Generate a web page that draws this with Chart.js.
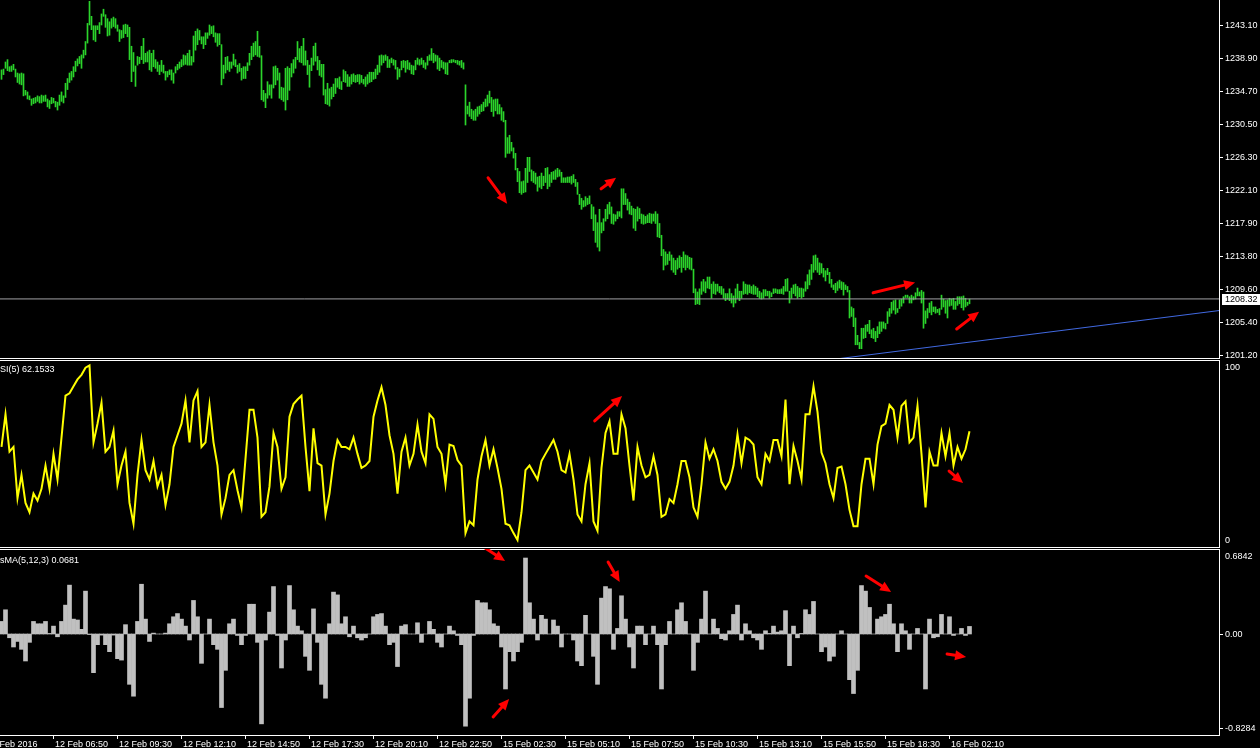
<!DOCTYPE html>
<html>
<head>
<meta charset="utf-8">
<script src="https://cdn.jsdelivr.net/npm/chart.js@4.4.1/dist/chart.umd.min.js"></script>
<style>
  html, body { margin: 0; padding: 0; background: #000; overflow: hidden; }
  canvas { position: absolute; left: 0; }
  #price { top: 0; }
  #rsi { top: 360px; }
  #osma { top: 549px; }
</style>
</head>
<body>
<canvas id="price" width="1260" height="360"></canvas>
<canvas id="rsi" width="1260" height="188"></canvas>
<canvas id="osma" width="1260" height="199"></canvas>
<script>
// XAUUSD M5, one entry per bar (high / low)
const highs = [
  1237.4,1237.5,1238.4,1238.7,1237.8,1237.9,1238.1,1237.5,1237.0,1236.9,
  1237.0,1236.9,1234.8,1234.6,1234.1,1233.7,1233.8,1233.9,1234.1,1234.0,
  1234.2,1234.1,1234.2,1233.7,1233.5,1233.9,1233.8,1233.4,1233.3,1234.2,
  1234.6,1234.1,1235.7,1236.3,1237.0,1237.2,1237.8,1238.5,1238.8,1239.1,
  1239.3,1239.9,1241.0,1243.3,1246.1,1244.2,1243.0,1243.0,1243.0,1243.4,
  1244.5,1245.1,1244.4,1243.9,1243.5,1243.9,1244.1,1243.9,1243.1,1242.5,
  1242.4,1243.1,1243.2,1243.1,1242.8,1240.4,1239.6,1237.9,1239.1,1239.0,
  1240.4,1241.4,1239.5,1239.7,1239.9,1239.5,1239.9,1238.7,1238.4,1238.0,
  1238.6,1238.0,1237.2,1237.2,1237.4,1237.4,1237.0,1237.8,1238.1,1238.4,
  1238.7,1239.3,1239.2,1239.5,1239.9,1239.1,1241.7,1242.3,1242.6,1242.4,
  1241.6,1241.6,1242.1,1242.1,1243.1,1242.9,1243.0,1242.1,1242.0,1242.0,
  1240.6,1238.0,1239.0,1239.1,1238.4,1238.4,1239.4,1238.7,1238.0,1238.2,
  1237.6,1237.8,1237.8,1238.3,1239.5,1240.4,1240.8,1241.0,1242.3,1240.4,
  1239.2,1234.8,1234.4,1235.9,1235.5,1235.5,1237.8,1237.9,1237.6,1237.0,
  1235.2,1235.1,1237.6,1237.8,1237.6,1238.2,1238.7,1239.0,1241.0,1240.1,
  1240.4,1241.4,1239.8,1238.6,1238.0,1238.9,1240.4,1240.8,1239.1,1238.6,
  1238.1,1238.1,1234.9,1235.7,1235.0,1235.2,1235.6,1236.3,1236.3,1236.5,
  1235.9,1237.4,1237.2,1236.8,1236.5,1236.8,1236.9,1236.7,1236.8,1236.8,
  1236.7,1236.2,1236.5,1236.8,1237.1,1237.1,1237.1,1237.5,1238.0,1239.2,
  1239.3,1239.2,1239.3,1239.1,1238.7,1238.9,1238.7,1238.6,1237.7,1237.5,
  1238.5,1238.6,1238.5,1238.6,1238.3,1238.0,1237.9,1238.6,1238.9,1238.7,
  1238.9,1238.6,1238.3,1239.1,1239.3,1240.1,1239.5,1239.3,1239.2,1238.9,
  1238.6,1238.4,1238.3,1238.3,1238.6,1238.7,1238.7,1238.6,1238.6,1238.5,
  1238.6,1238.3,1235.5,1232.8,1233.3,1232.4,1232.2,1232.4,1232.7,1232.8,
  1233.0,1233.3,1233.7,
  1234.2,1234.7,1233.9,1233.6,1233.7,1233.7,1233.0,1232.6,1232.1,1231.0,
  1228.8,1229.1,1228.2,1227.5,1226.8,1224.9,1224.5,1223.2,1223.3,1224.9,
  1226.3,1226.3,1224.7,1224.5,1224.3,1223.8,1223.9,1224.3,1223.9,1224.9,
  1225.0,1224.1,1224.4,1224.5,1224.7,1224.9,1224.7,1224.4,1223.7,1223.7,
  1223.8,1223.8,1223.9,1224.1,1223.5,1223.1,1221.6,1221.1,1220.8,1221.3,
  1221.1,1221.4,1220.3,1220.0,1219.0,1218.0,1219.7,1218.0,1218.5,1219.7,
  1220.3,1220.6,1220.0,1219.1,1219.0,1219.4,1219.4,1222.3,1222.3,1221.7,
  1221.0,1220.6,1220.1,1219.8,1219.7,1220.0,1219.8,1219.1,1219.0,1218.8,
  1219.0,1219.2,1219.1,1219.1,1219.4,1219.1,1217.9,1216.4,1214.6,1214.3,
  1214.0,1214.3,1213.9,1213.5,1213.2,1213.5,1213.8,1213.6,1214.3,1213.9,
  1213.8,1213.6,1213.5,1212.1,1209.6,1209.2,1209.6,1210.5,1210.8,1210.5,
  1211.1,1211.1,1210.2,1210.5,1210.2,1210.2,1209.9,1209.9,1209.6,1209.0,
  1209.0,
  1209.6,1209.0,1208.7,1209.6,1210.2,1209.3,1209.3,1210.5,1210.2,1210.1,
  1210.1,1209.9,1210.1,1209.9,1209.7,1209.3,1209.1,1209.5,1209.5,1209.3,
  1209.3,1209.1,1209.6,1209.6,1209.5,1209.5,1209.6,1209.9,1210.8,1210.9,
  1209.3,1209.7,1210.1,1210.2,1209.9,1209.7,1209.7,1209.6,1210.5,1211.4,
  1212.0,1212.7,1213.8,1213.9,1213.5,1212.9,
  1212.8,1212.2,1211.9,1212.2,1211.7,1210.8,1210.1,1210.3,1210.5,1210.7,
  1210.5,1210.4,1210.1,1209.9,1209.4,1207.3,1207.1,1205.9,1203.7,1202.8,
  1204.6,1204.6,1205.0,1205.1,1205.6,1204.4,1204.6,1204.2,1204.8,1205.4,
  1205.4,1205.4,1205.2,1206.7,1207.1,1207.9,1208.1,1208.2,1207.1,1208.2,
  1208.3,1208.6,1208.8,1208.8,1208.6,1208.8,1208.6,1209.1,1209.7,1209.2,
  1209.4,1209.2,1206.8,1207.1,1207.8,1208.0,1207.3,1207.3,1207.0,1207.1,
  1208.8,1208.3,1208.1,1208.2,1208.4,1208.3,1208.4,1208.0,1208.6,1208.6,
  1208.6,1208.7,1208.4,1207.9,1208.3
];
const lows = [
  1236.2,1236.8,1237.6,1237.3,1237.2,1237.2,1237.4,1236.5,1235.8,1235.6,
  1235.5,1234.1,1234.2,1233.7,1233.6,1232.9,1233.1,1233.2,1233.4,1233.2,
  1233.2,1233.4,1233.4,1232.7,1232.5,1233.1,1233.2,1232.7,1232.3,1232.9,
  1233.4,1233.2,1233.9,1234.9,1235.8,1236.1,1236.5,1237.2,1237.9,1238.2,
  1237.6,1238.9,1239.3,1240.8,1243.1,1242.5,1241.2,1241.0,1242.5,1242.0,
  1243.1,1244.2,1242.8,1241.7,1241.8,1242.7,1242.9,1242.7,1242.3,1241.0,
  1241.4,1241.5,1242.0,1241.6,1238.7,1235.9,1237.2,1235.3,1238.0,1238.2,
  1238.7,1238.2,1238.4,1238.4,1237.4,1237.2,1237.8,1237.6,1237.2,1236.8,
  1237.2,1237.0,1236.1,1236.5,1236.8,1236.1,1235.7,1237.0,1237.4,1237.6,
  1237.8,1238.0,1238.1,1238.0,1238.0,1238.0,1238.4,1239.9,1240.6,1241.2,
  1240.7,1240.1,1240.6,1241.4,1241.8,1242.0,1241.6,1240.9,1240.4,1240.6,
  1235.5,1236.3,1237.0,1237.4,1237.2,1237.6,1238.0,1237.8,1237.0,1237.2,
  1236.1,1236.3,1236.3,1237.3,1238.0,1238.7,1239.1,1239.3,1239.1,1239.0,
  1233.6,1233.4,1232.6,1233.8,1234.2,1233.8,1235.1,1235.5,1236.1,1233.8,
  1233.6,1233.4,1232.3,1233.6,1234.8,1236.5,1237.0,1237.6,1238.7,1238.4,
  1238.3,1238.0,1238.0,1236.8,1235.2,1237.3,1238.0,1238.5,1237.4,1236.7,
  1236.5,1234.2,1233.1,1233.0,1232.8,1233.7,1234.0,1234.4,1235.2,1235.0,
  1234.9,1235.9,1235.8,1235.3,1235.3,1235.6,1235.9,1235.8,1235.9,1235.6,
  1235.8,1235.6,1235.3,1235.6,1235.8,1235.9,1236.2,1236.3,1236.8,1237.1,
  1238.0,1238.3,1238.6,1237.7,1237.7,1238.3,1238.0,1237.5,1236.2,1236.5,
  1237.4,1237.7,1237.1,1237.5,1237.4,1236.9,1236.8,1237.4,1238.1,1238.0,
  1238.1,1237.7,1237.5,1238.0,1238.6,1238.6,1238.3,1238.5,1237.5,1237.3,
  1237.7,1237.5,1236.9,1236.8,1238.3,1238.3,1238.4,1238.3,1238.1,1238.0,
  1237.7,1237.5,1230.4,1231.8,1231.5,1231.2,1231.0,1231.0,1231.5,1231.8,
  1232.1,1232.2,1232.7,
  1232.8,1233.2,1232.1,1231.5,1232.2,1231.8,1231.8,1231.0,1230.8,1226.3,
  1226.8,1226.8,1227.1,1226.2,1224.7,1223.2,1221.8,1221.6,1221.8,1221.9,
  1223.1,1224.5,1223.3,1223.1,1222.9,1222.0,1222.5,1222.3,1222.7,1223.1,
  1222.3,1222.6,1223.1,1223.5,1223.5,1223.8,1223.9,1223.1,1223.1,1223.1,
  1223.1,1223.1,1222.9,1223.1,1222.6,1221.6,1220.3,1219.7,1220.0,1220.1,
  1220.3,1220.4,1218.5,1217.0,1215.5,1214.9,1214.4,1216.7,1217.0,1218.2,
  1218.5,1219.1,1217.9,1217.8,1218.2,1218.5,1218.8,1218.6,1220.3,1220.3,
  1219.6,1219.1,1219.0,1217.3,1217.0,1218.2,1218.5,1217.9,1217.8,1217.9,
  1218.0,1218.0,1217.9,1218.2,1217.9,1216.2,1216.1,1213.8,1212.0,1212.6,
  1212.7,1213.2,1212.0,1211.7,1211.4,1212.1,1212.3,1211.7,1212.3,1212.0,
  1212.3,1212.1,1212.0,1209.1,1207.6,1207.7,1207.6,1208.9,1209.3,1209.1,
  1209.7,1209.6,1208.4,1209.0,1208.9,1209.3,1209.1,1208.9,1208.4,1208.1,
  1208.3,
  1208.1,1207.8,1207.3,1207.8,1208.4,1208.1,1208.4,1208.9,1209.0,1208.9,
  1209.1,1209.0,1208.9,1208.9,1208.6,1208.4,1208.3,1208.4,1208.7,1208.7,
  1208.4,1208.6,1209.0,1209.1,1209.0,1209.0,1209.0,1208.9,1209.3,1209.3,
  1207.8,1208.4,1209.0,1208.7,1208.4,1208.6,1208.4,1208.6,1209.3,1209.6,
  1210.1,1210.8,1211.7,1212.0,1211.7,1211.4,
  1211.6,1211.1,1210.6,1211.4,1210.3,1209.8,1209.5,1209.1,1209.4,1209.7,
  1209.5,1208.8,1209.5,1209.2,1205.9,1206.1,1204.8,1202.5,1202.5,1202.0,
  1202.0,1203.3,1203.4,1204.2,1203.9,1203.4,1203.3,1202.9,1203.4,1203.9,
  1204.2,1204.6,1204.5,1205.2,1206.1,1206.5,1206.9,1206.4,1206.6,1207.1,
  1207.4,1207.8,1208.5,1208.5,1207.8,1207.8,1208.2,1208.3,1208.7,1208.7,
  1207.8,1204.6,1205.2,1205.9,1206.6,1206.3,1206.7,1206.5,1206.6,1206.3,
  1207.0,1207.3,1206.5,1205.9,1207.4,1207.5,1207.0,1207.0,1207.5,1207.7,
  1207.2,1206.9,1207.3,1207.5,1207.7
];

// RSI(5) and OsMA(5,12,3), one entry every second bar
const rsi = [
  53.6,71.4,51.0,53.6,25.6,38.3,23.0,17.9,28.1,24.3,30.7,43.4,30.7,49.8,35.8,58.7,
  81.6,82.9,86.7,90.5,93.0,96.9,98.1,56.1,66.3,77.8,51.0,53.6,62.5,33.2,43.4,51.0,
  23.0,11.6,38.3,57.4,40.9,35.8,45.9,32.0,38.3,21.8,33.2,53.6,60.0,66.3,79.0,56.1,
  79.0,84.1,53.6,56.1,76.5,56.1,43.4,16.7,25.6,38.3,40.9,29.9,20.5,47.2,
  73.9,73.9,58.7,15.4,17.9,32.0,61.2,53.6,30.7,37.0,70.1,77.0,79.5,81.6,53.6,29.4,
  63.8,44.7,43.4,16.7,28.1,45.9,57.4,53.6,53.6,52.3,58.7,49.8,42.1,43.4,45.9,70.1,
  79.0,86.2,76.5,60.0,49.8,28.1,51.0,58.7,43.4,49.8,65.8,51.0,44.7,71.4,68.9,53.6,
  49.8,33.2,54.9,54.1,46.4,43.4,6.5,12.9,10.8,35.8,48.5,57.4,
  43.4,52.3,42.1,30.7,11.6,10.8,6.5,2.7,17.9,40.9,43.4,39.6,35.8,45.9,49.8,53.6,
  57.4,51.0,40.9,39.6,49.8,35.8,16.7,12.9,33.2,44.7,12.9,7.8,42.1,61.2,67.6,49.8,
  49.8,71.4,63.8,43.4,24.3,53.6,43.4,37.0,38.3,48.5,38.3,15.4,16.7,25.1,23.0,33.2,
  45.9,45.9,37.0,20.5,15.4,33.2,56.1,47.2,52.3,45.9,34.5,30.7,
  34.5,43.4,60.5,44.7,58.7,57.4,54.9,37.0,33.2,49.8,45.9,57.4,57.4,48.5,79.5,33.2,
  54.1,45.9,35.8,71.4,71.4,86.7,72.7,50.5,44.7,33.2,25.6,42.1,42.9,33.2,19.2,10.3,
  10.3,33.2,47.2,47.2,33.2,54.9,65.0,66.3,76.5,73.9,58.7,76.0,78.5,56.1,58.7,76.0,
  49.8,20.5,51.0,43.4,43.4,61.2,48.5,61.2,43.4,53.6,47.2,52.3,62.2
];
const osma = [
  0.113,0.218,-0.034,-0.117,-0.067,-0.138,-0.243,-0.075,0.113,0.092,0.092,0.113,0.005,0.071,-0.025,0.113,
  0.260,0.440,0.134,0.126,0.042,0.386,-0.005,-0.348,-0.096,-0.010,-0.096,-0.159,-0.010,-0.222,-0.235,0.084,
  -0.453,-0.560,0.113,0.448,0.134,-0.067,0.008,0.0,0.0,0.008,0.092,0.155,0.184,0.134,0.071,-0.054,
  0.302,0.155,-0.264,0.0,0.134,-0.096,-0.138,-0.662,-0.327,0.092,0.134,-0.013,-0.096,-0.013,
  0.268,0.268,-0.075,-0.809,-0.054,0.197,0.427,-0.013,-0.306,-0.054,0.436,0.218,0.071,0.029,-0.201,-0.327,
  0.226,-0.075,-0.453,-0.578,0.092,0.377,0.352,0.092,0.155,-0.025,0.071,-0.034,-0.054,-0.034,0.0,0.155,
  0.176,0.184,0.071,-0.096,-0.075,-0.293,0.071,0.084,0.0,0.0,0.101,-0.075,0.0,0.113,0.042,-0.075,
  -0.117,0.0,0.071,0.029,-0.013,-0.096,-0.830,-0.578,-0.013,0.302,0.281,0.281,
  0.218,0.092,0.071,-0.117,-0.495,-0.159,-0.243,-0.159,-0.075,0.684,0.281,0.134,-0.054,0.168,0.134,0.0,
  0.126,0.071,-0.117,0.0,0.0,-0.054,-0.243,-0.285,0.168,0.0,-0.201,-0.453,0.323,0.427,0.407,-0.138,
  0.050,0.344,0.134,-0.117,-0.306,0.071,0.071,-0.096,0.0,0.071,-0.096,-0.495,-0.096,0.113,0.0,0.218,
  0.281,0.113,0.0,-0.327,-0.075,0.134,0.386,0.0,0.134,0.050,-0.042,-0.054,
  0.029,0.176,0.260,-0.054,0.092,0.029,-0.034,-0.054,-0.138,0.029,0.005,0.071,0.017,0.029,0.210,-0.285,
  0.071,-0.034,0.005,0.218,0.176,0.293,0.0,-0.159,-0.117,-0.243,-0.201,0.0,0.029,0.0,-0.411,-0.536,
  -0.327,0.436,0.386,0.239,0.0,0.134,0.155,0.176,0.268,0.092,-0.159,0.092,0.029,-0.138,0.0,0.050,
  0.0,-0.495,0.134,-0.034,-0.025,0.176,0.0,0.155,-0.013,0.0,0.050,-0.013,0.068
];

const lastPrice = 1208.32;
const trendAnchors = [[410, 1200.46], [609, 1206.85]];
const priceTicks = [1243.10, 1238.90, 1234.70, 1230.50, 1226.30, 1222.10, 1217.90, 1213.80, 1209.60, 1205.40, 1201.20];
const rsiLabels = ['100', '0'];
const osmaLabels = [[0.6842, '0.6842'], [0, '0.00'], [-0.8284, '-0.8284']];
const xTickBars = [-8, 26, 58, 90, 122, 154, 186, 218, 250, 282, 314, 346, 378, 410, 442, 474];
const xTickLabels = ['12 Feb 2016', '12 Feb 06:50', '12 Feb 09:30', '12 Feb 12:10', '12 Feb 14:50',
  '12 Feb 17:30', '12 Feb 20:10', '12 Feb 22:50', '15 Feb 02:30', '15 Feb 05:10', '15 Feb 07:50',
  '15 Feb 10:30', '15 Feb 13:10', '15 Feb 15:50', '15 Feb 18:30', '16 Feb 02:10'];
const rsiName = 'RSI(5) 62.1533';
const osmaName = 'OsMA(5,12,3) 0.0681';

// hand-drawn arrows: [bar, value, bar, value], head at the second point
const priceArrows = [[243.3, 1223.7, 252.8, 1220.4], [299.8, 1222.3, 307.3, 1223.7],
  [435.8, 1209.1, 456.8, 1210.4], [477.6, 1204.5, 488.8, 1206.7]];
const rsiArrows = [[296.6, 67.8, 310.3, 81.4], [473.8, 40.4, 480.8, 33.9]];
const osmaArrows = [[241.3, 0.78, 251.8, 0.657], [245.8, -0.747, 253.8, -0.585],
  [303.3, 0.648, 309.1, 0.468], [432.3, 0.522, 444.8, 0.378], [472.8, -0.18, 482.3, -0.207]];

const FONT = '9px "Liberation Sans", Arial, sans-serif';
const xScale = { type: 'linear', min: -0.75, max: 608.75, display: false, offset: false };
const base = {
  responsive: false, animation: false, devicePixelRatio: 1, events: [],
  plugins: { legend: { display: false }, tooltip: { enabled: false } }
};

function hline(c, y, x0, x1) { c.beginPath(); c.moveTo(x0, y + 0.5); c.lineTo(x1, y + 0.5); c.stroke(); }
function vline(c, x, y0, y1) { c.beginPath(); c.moveTo(x + 0.5, y0); c.lineTo(x + 0.5, y1); c.stroke(); }

function arrows(chart, list) {
  const c = chart.ctx, xs = chart.scales.x, ys = chart.scales.y;
  c.fillStyle = c.strokeStyle = '#ff0000';
  list.forEach(r => {
    const x0 = xs.getPixelForValue(r[0]), y0 = ys.getPixelForValue(r[1]);
    const x1 = xs.getPixelForValue(r[2]), y1 = ys.getPixelForValue(r[3]);
    const a = Math.atan2(y1 - y0, x1 - x0), hl = 11, hw = 5;
    const bx = x1 - hl * Math.cos(a), by = y1 - hl * Math.sin(a);
    c.lineWidth = 3; c.lineCap = 'round';
    c.beginPath(); c.moveTo(x0, y0); c.lineTo(bx, by); c.stroke();
    c.beginPath(); c.moveTo(x1, y1);
    c.lineTo(bx + hw * Math.sin(a), by - hw * Math.cos(a));
    c.lineTo(bx - hw * Math.sin(a), by + hw * Math.cos(a));
    c.closePath(); c.fill();
  });
}

const priceFrame = { id: 'priceFrame', afterDraw(chart) {
  const c = chart.ctx, a = chart.chartArea, ys = chart.scales.y, ax = Math.round(a.right);
  c.save();
  c.strokeStyle = '#fff'; c.lineWidth = 1;
  vline(c, ax, 0, a.bottom + 1);
  hline(c, a.bottom, 0, ax + 1);
  c.font = FONT; c.fillStyle = '#fff'; c.textBaseline = 'middle';
  priceTicks.forEach(v => {
    const py = Math.round(ys.getPixelForValue(v));
    hline(c, py, ax + 1, ax + 4);
    c.fillText(v.toFixed(2), ax + 6, py + 0.5);
  });
  const ty = Math.round(ys.getPixelForValue(lastPrice));
  c.fillRect(ax + 3, ty - 5, 38, 11);
  c.fillStyle = '#000';
  c.fillText(lastPrice.toFixed(2), ax + 6, ty + 0.5);
  arrows(chart, priceArrows);
  c.restore();
}};

const rsiFrame = { id: 'rsiFrame', afterDraw(chart) {
  const c = chart.ctx, a = chart.chartArea, ax = Math.round(a.right);
  c.save();
  c.strokeStyle = '#fff'; c.lineWidth = 1;
  vline(c, ax, 0, a.bottom + 1);
  hline(c, 0, 0, ax + 1);
  hline(c, a.bottom, 0, ax + 1);
  c.font = FONT; c.fillStyle = '#fff'; c.textBaseline = 'middle';
  c.fillText(rsiLabels[0], ax + 6, a.top + 6.5);
  c.fillText(rsiLabels[1], ax + 6, a.bottom - 6.5);
  c.fillText(rsiName, -6.5, 10);
  arrows(chart, rsiArrows);
  c.restore();
}};

const osmaFrame = { id: 'osmaFrame', afterDraw(chart) {
  const c = chart.ctx, a = chart.chartArea, ys = chart.scales.y, xs = chart.scales.x;
  const ax = Math.round(a.right), bot = Math.round(a.bottom);
  c.save();
  c.strokeStyle = '#fff'; c.lineWidth = 1;
  vline(c, ax, 0, bot + 1);
  hline(c, 0, 0, ax + 1);
  hline(c, bot, 0, ax + 1);
  c.font = FONT; c.fillStyle = '#fff'; c.textBaseline = 'middle';
  osmaLabels.forEach((l, i) => {
    let py = Math.round(ys.getPixelForValue(l[0]));
    if (i === 0) py = a.top + 6;
    if (i === osmaLabels.length - 1) py = bot - 7;
    if (i > 0) hline(c, py, ax + 1, ax + 4);
    c.fillText(l[1], ax + 6, py + 0.5);
  });
  c.fillText(osmaName, -7, 12);
  c.textBaseline = 'alphabetic';
  xTickBars.forEach((b, i) => {
    const px = Math.floor(xs.getPixelForValue(b));
    if (px >= 0 && px < ax) vline(c, px, bot + 1, bot + 4);
    c.fillText(xTickLabels[i], px + 2, bot + 12);
  });
  arrows(chart, osmaArrows);
  c.restore();
}};

new Chart(document.getElementById('price'), {
  type: 'bar',
  data: { datasets: [
    { type: 'line', data: [{ x: -0.75, y: lastPrice }, { x: 608.75, y: lastPrice }],
      borderColor: '#a0a0a4', borderWidth: 1, pointRadius: 0, order: 0 },
    { type: 'line', data: trendAnchors.map(p => ({ x: p[0], y: p[1] })),
      borderColor: '#4169e1', borderWidth: 1, pointRadius: 0, order: 1 },
    { type: 'bar', data: highs.map((h, i) => ({ x: i, y: [lows[i], h] })),
      backgroundColor: '#2bd42b', barThickness: 1, borderWidth: 0, minBarLength: 1, order: 2 }
  ]},
  options: Object.assign({}, base, {
    layout: { padding: { left: 0, right: 41, top: 0, bottom: 2 } },
    scales: { x: xScale, y: { min: 1200.82, max: 1246.27, display: false } }
  }),
  plugins: [priceFrame]
});

new Chart(document.getElementById('rsi'), {
  type: 'line',
  data: { datasets: [{ data: rsi.map((v, k) => ({ x: 2 * k, y: v })),
    borderColor: '#ffff00', borderWidth: 2, pointRadius: 0, tension: 0 }] },
  options: Object.assign({}, base, {
    layout: { padding: { left: 0, right: 41, top: 1, bottom: 1 } },
    scales: { x: xScale, y: { min: -1.09, max: 100.55, display: false } }
  }),
  plugins: [rsiFrame]
});

new Chart(document.getElementById('osma'), {
  type: 'bar',
  data: { datasets: [{ data: osma.map((v, k) => ({ x: 2 * k, y: v })),
    backgroundColor: '#c0c0c0', barThickness: 4, borderWidth: 0 }] },
  options: Object.assign({}, base, {
    layout: { padding: { left: 0, right: 41, top: 1, bottom: 13 } },
    scales: { x: xScale, y: { min: -0.9093, max: 0.7562, display: false } }
  }),
  plugins: [osmaFrame]
});
</script>
</body>
</html>
